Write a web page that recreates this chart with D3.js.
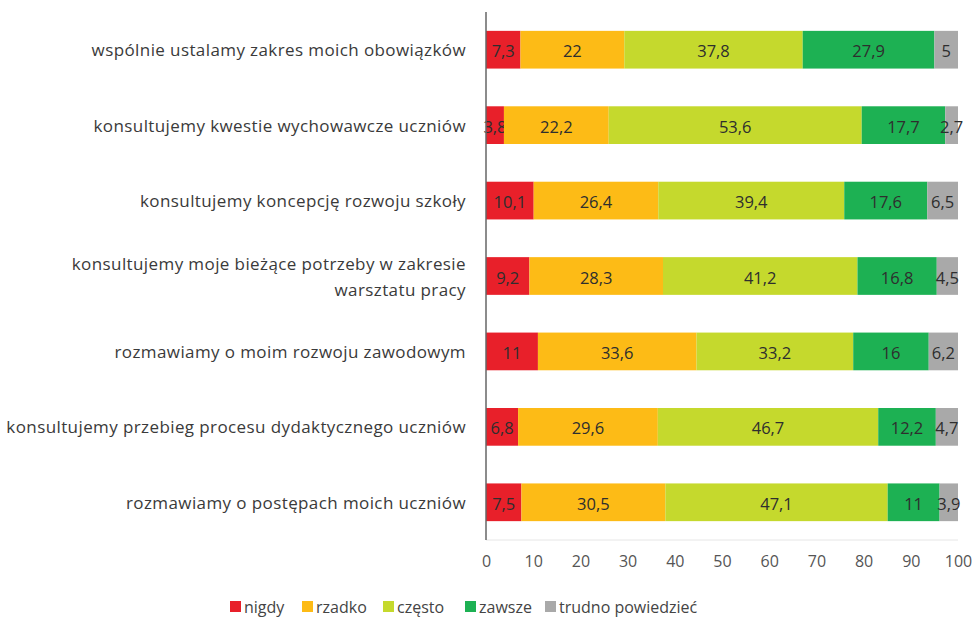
<!DOCTYPE html>
<html><head><meta charset="utf-8">
<script src="https://cdn.jsdelivr.net/npm/d3@7"></script>
<style>body{margin:0;background:#fff;} text{font-family:"Open Sans","Liberation Sans",sans-serif;}</style>
</head><body><svg id="c" width="976" height="622"></svg>
<script>
const categories = [
  ["wspólnie ustalamy zakres moich obowiązków"],
  ["konsultujemy kwestie wychowawcze uczniów"],
  ["konsultujemy koncepcję rozwoju szkoły"],
  ["konsultujemy moje bieżące potrzeby w zakresie","warsztatu pracy"],
  ["rozmawiamy o moim rozwoju zawodowym"],
  ["konsultujemy przebieg procesu dydaktycznego uczniów"],
  ["rozmawiamy o postępach moich uczniów"]
];
const seriesNames = ["nigdy","rzadko","często","zawsze","trudno powiedzieć"];
const nigdy  = [7.3, 3.8, 10.1, 9.2, 11, 6.8, 7.5];
const rzadko = [22, 22.2, 26.4, 28.3, 33.6, 29.6, 30.5];
const czesto = [37.8, 53.6, 39.4, 41.2, 33.2, 46.7, 47.1];
const zawsze = [27.9, 17.7, 17.6, 16.8, 16, 12.2, 11];
const trudno = [5, 2.7, 6.5, 4.5, 6.2, 4.7, 3.9];
const ticks = [0,10,20,30,40,50,60,70,80,90,100];
const colors = ["#e8202a","#fdbb16","#c5d92d","#1db153","#a9a9a9"];

const series = [nigdy, rzadko, czesto, zawsze, trudno];
const rows = categories.map((c,i)=>{const o={key:i}; seriesNames.forEach((s,j)=>o[s]=series[j][i]); return o;});
const stack = d3.stack().keys(seriesNames)(rows);

const svg = d3.select("#c");
const x = d3.scaleLinear().domain([0,100]).range([486,958]);
const y = d3.scaleBand().domain(d3.range(categories.length)).range([12,540]).paddingInner(0.5).paddingOuter(0.25);
const fmt = v => String(v).replace(".",",");

// horizontal axis baseline
svg.append("line").attr("x1",486).attr("x2",958).attr("y1",540).attr("y2",540).attr("stroke","#e6e6e6");

stack.forEach((layer,j)=>{
  const g = svg.append("g");
  g.selectAll("rect").data(layer).enter().append("rect")
    .attr("x",d=>x(d[0])).attr("width",d=>x(d[1])-x(d[0]))
    .attr("y",(d,i)=>y(i)).attr("height",y.bandwidth())
    .attr("fill",colors[j]);
  g.selectAll("text").data(layer).enter().append("text")
    .attr("x",d=>(x(d[0])+x(d[1]))/2).attr("y",(d,i)=>y(i)+y.bandwidth()/2+1)
    .attr("text-anchor","middle").attr("dominant-baseline","central")
    .attr("font-size",16.5).attr("font-weight",500).attr("fill","#2e2e2e")
    .text((d,i)=>fmt(series[j][i]));
});

// vertical axis
svg.append("line").attr("x1",486).attr("x2",486).attr("y1",12).attr("y2",540).attr("stroke","#666").attr("stroke-width",1.5);

// category labels
categories.forEach((lines,i)=>{
  const cy = y(i)+y.bandwidth()/2;
  const t = svg.append("text").attr("text-anchor","end").attr("font-size",17).attr("font-weight",500).attr("letter-spacing",0.4).attr("fill","#3a3a3a");
  lines.forEach((l,k)=>{
    t.append("tspan").attr("x",466).attr("y",cy + (k-(lines.length-1)/2)*26).attr("dominant-baseline","central").text(l);
  });
});

// x axis tick labels
const xa = d3.axisBottom(x).tickValues(ticks).tickSize(0).tickPadding(0);
const ag = svg.append("g").attr("transform","translate(0,556)").call(xa);
ag.select(".domain").remove();
ag.selectAll("text").attr("font-size",16).attr("fill","#555").attr("font-family","'Open Sans','Liberation Sans',sans-serif").attr("dy","0.71em");

// legend
const legX = [230,302,383,465,545];
seriesNames.forEach((s,j)=>{
  svg.append("rect").attr("x",legX[j]).attr("y",601).attr("width",11).attr("height",11).attr("fill",colors[j]);
  svg.append("text").attr("x",legX[j]+14).attr("y",607).attr("dominant-baseline","central").attr("font-size",16).attr("fill","#444").text(s);
});
</script></body></html>
